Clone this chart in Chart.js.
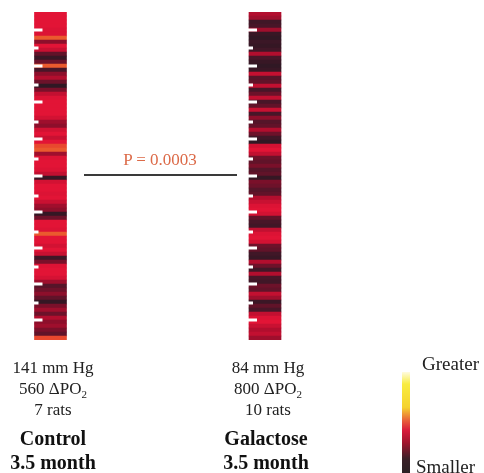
<!DOCTYPE html>
<html>
<head>
<meta charset="utf-8">
<script src="https://cdn.jsdelivr.net/npm/chart.js@4.4.1/dist/chart.umd.min.js"></script>
<style>
  body { margin: 0; background: #fff; font-family: "Liberation Serif", "DejaVu Serif", serif; }
  #wrap { position: relative; width: 484px; height: 473px; overflow: hidden; }
  #chart { position: absolute; left: 0; top: 0; }
  .lbl { position: absolute; width: 160px; text-align: center; color: #222; }
  .info { font-size: 17px; line-height: 21px; }
  .grp { font-size: 20px; line-height: 24px; font-weight: bold; color: #111; }
  sub { font-size: 11px; line-height: 0; }
  #pval { position: absolute; left: 84px; width: 152px; top: 150px; text-align: center; font-size: 17px; color: #dc6a48; }
  #pline { position: absolute; left: 84px; top: 174px; width: 153px; height: 2px; background: #3a3a3a; }
  #cbar { position: absolute; left: 402px; top: 372px; width: 8px; height: 101px;
          background: linear-gradient(to bottom, #fffbe0 0%, #f8ec40 12%, #f5d22e 35%, #e8603a 48%, #d81a3c 58%, #a0142e 70%, #3a2028 86%, #2a2024 100%); }
  .leg { position: absolute; font-size: 19px; color: #222; }
</style>
</head>
<body>
<div id="wrap">
  <canvas id="chart" width="484" height="473"></canvas>
  <div id="pval">P = 0.0003</div>
  <div id="pline"></div>
  <div class="lbl info" style="left:-27px; top:357px">141 mm Hg<br>560 ΔPO<sub>2</sub><br>7 rats</div>
  <div class="lbl grp" style="left:-27px; top:426px">Control<br>3.5 month</div>
  <div class="lbl info" style="left:188px; top:357px">84 mm Hg<br>800 ΔPO<sub>2</sub><br>10 rats</div>
  <div class="lbl grp" style="left:186px; top:426px">Galactose<br>3.5 month</div>
  <div id="cbar"></div>
  <div class="leg" style="left:422px; top:353px">Greater</div>
  <div class="leg" style="left:416px; top:456px">Smaller</div>
</div>
<script>
// groups (one strip each)
const groups = ['Control', 'Galactose'];

// relative PO2 per row, top to bottom (0 = smaller, 1 = greater)
const controlRows = [
  0.70, 0.70, 0.70, 0.70, 0.68, 0.68, 0.88, 0.45, 0.70, 0.62,
  0.30, 0.10, 0.35, 0.88, 0.20, 0.45, 0.55, 0.35, 0.05, 0.40,
  0.60, 0.68, 0.70, 0.70, 0.70, 0.70, 0.65, 0.50, 0.45, 0.65,
  0.70, 0.62, 0.70, 0.85, 0.88, 0.50, 0.68, 0.70, 0.70, 0.68,
  0.60, 0.10, 0.65, 0.70, 0.70, 0.68, 0.70, 0.62, 0.50, 0.45,
  0.08, 0.35, 0.70, 0.70, 0.68, 0.88, 0.70, 0.70, 0.65, 0.70,
  0.62, 0.15, 0.40, 0.68, 0.70, 0.70, 0.66, 0.50, 0.25, 0.35,
  0.45, 0.30, 0.08, 0.40, 0.50, 0.35, 0.55, 0.45, 0.50, 0.40,
  0.30, 0.85
];
const galactoseRows = [
  0.55, 0.50, 0.15, 0.20, 0.50, 0.10, 0.05, 0.12, 0.08, 0.15,
  0.55, 0.20, 0.10, 0.05, 0.10, 0.60, 0.25, 0.30, 0.60, 0.20,
  0.35, 0.60, 0.20, 0.30, 0.62, 0.20, 0.45, 0.25, 0.30, 0.55,
  0.35, 0.15, 0.05, 0.65, 0.70, 0.60, 0.35, 0.30, 0.40, 0.25,
  0.30, 0.08, 0.40, 0.35, 0.25, 0.30, 0.55, 0.62, 0.68, 0.70,
  0.65, 0.30, 0.20, 0.15, 0.60, 0.68, 0.70, 0.65, 0.35, 0.30,
  0.15, 0.10, 0.55, 0.35, 0.15, 0.55, 0.20, 0.15, 0.35, 0.30,
  0.60, 0.50, 0.12, 0.30, 0.20, 0.60, 0.68, 0.70, 0.62, 0.55,
  0.60, 0.50
];

// scale marks along the left edge of each strip (in row units)
const notchRows = [4.5, 9, 13.5, 18.25, 22.5, 27.5, 31.75, 36.75, 41, 46, 50, 55, 59, 63.75, 68, 72.75, 77];

// colour scale: smaller (dark) -> red -> orange -> greater (yellow)
const stops = [
  [0.00, [40, 24, 34]],
  [0.20, [72, 22, 40]],
  [0.40, [122, 16, 42]],
  [0.55, [178, 14, 46]],
  [0.70, [226, 20, 54]],
  [0.85, [232, 72, 46]],
  [0.90, [236, 102, 46]],
  [1.00, [250, 230, 60]]
];
function colorFor(v) {
  for (let i = 1; i < stops.length; i++) {
    if (v <= stops[i][0]) {
      const [a, ca] = stops[i - 1], [b, cb] = stops[i];
      const t = (v - a) / (b - a);
      const c = ca.map((x, k) => Math.round(x + (cb[k] - x) * t));
      return `rgb(${c[0]},${c[1]},${c[2]})`;
    }
  }
  const c = stops[stops.length - 1][1];
  return `rgb(${c[0]},${c[1]},${c[2]})`;
}

function stripDataset(rows, gi) {
  return {
    label: groups[gi],
    data: rows.map((v, i) => ({ x: gi, y: [i, i + 1] })),
    backgroundColor: rows.map(colorFor),
    borderWidth: 0,
    borderSkipped: false,
    barThickness: 32,
    grouped: false
  };
}

const notchPlugin = {
  id: 'notches',
  afterDatasetsDraw(chart) {
    const ctx = chart.ctx;
    const yScale = chart.scales.y;
    groups.forEach((g, di) => {
      const bar = chart.getDatasetMeta(di).data[0];
      const left = bar.x - bar.width / 2;
      ctx.fillStyle = '#fff';
      notchRows.forEach((r, k) => {
        const py = yScale.getPixelForValue(r);
        ctx.fillRect(left - 1, py - 1.5, k % 2 === 0 ? 9 : 5, 3);
      });
    });
  }
};

new Chart(document.getElementById('chart'), {
  type: 'bar',
  data: {
    datasets: [stripDataset(controlRows, 0), stripDataset(galactoseRows, 1)]
  },
  options: {
    responsive: false,
    animation: false,
    devicePixelRatio: 1,
    layout: { padding: { top: 12, bottom: 133, left: 0, right: 0 } },
    plugins: { legend: { display: false }, tooltip: { enabled: false } },
    scales: {
      x: { type: 'linear', offset: false, min: -0.2354, max: 2.021, display: false },
      y: { type: 'linear', min: 0, max: controlRows.length, reverse: true, display: false }
    }
  },
  plugins: [notchPlugin]
});
</script>
</body>
</html>
